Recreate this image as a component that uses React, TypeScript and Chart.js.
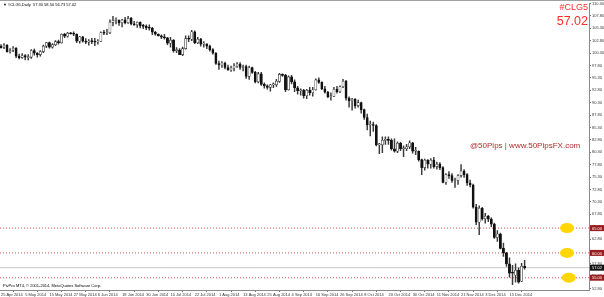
import React, { useEffect, useRef } from 'react';
import { Chart, registerables } from 'chart.js';

Chart.register(...registerables);

// ---- data (daily bars, 23 Apr 2014 .. 22 Dec 2014) ----
const dates: string[] = [
  '2014.04.23','2014.04.24','2014.04.25','2014.04.28','2014.04.29','2014.04.30',
  '2014.05.01','2014.05.02','2014.05.05','2014.05.06','2014.05.07','2014.05.08','2014.05.09','2014.05.12','2014.05.13','2014.05.14','2014.05.15','2014.05.16','2014.05.19','2014.05.20','2014.05.21','2014.05.22','2014.05.23','2014.05.26','2014.05.27','2014.05.28','2014.05.29','2014.05.30',
  '2014.06.02','2014.06.03','2014.06.04','2014.06.05','2014.06.06','2014.06.09','2014.06.10','2014.06.11','2014.06.12','2014.06.13','2014.06.16','2014.06.17','2014.06.18','2014.06.19','2014.06.20','2014.06.23','2014.06.24','2014.06.25','2014.06.26','2014.06.27','2014.06.30',
  '2014.07.01','2014.07.02','2014.07.03','2014.07.04','2014.07.07','2014.07.08','2014.07.09','2014.07.10','2014.07.11','2014.07.14','2014.07.15','2014.07.16','2014.07.17','2014.07.18','2014.07.21','2014.07.22','2014.07.23','2014.07.24','2014.07.25','2014.07.28','2014.07.29','2014.07.30','2014.07.31',
  '2014.08.01','2014.08.04','2014.08.05','2014.08.06','2014.08.07','2014.08.08','2014.08.11','2014.08.12','2014.08.13','2014.08.14','2014.08.15','2014.08.18','2014.08.19','2014.08.20','2014.08.21','2014.08.22','2014.08.25','2014.08.26','2014.08.27','2014.08.28','2014.08.29',
  '2014.09.01','2014.09.02','2014.09.03','2014.09.04','2014.09.05','2014.09.08','2014.09.09','2014.09.10','2014.09.11','2014.09.12','2014.09.15','2014.09.16','2014.09.17','2014.09.18','2014.09.19','2014.09.22','2014.09.23','2014.09.24','2014.09.25','2014.09.26','2014.09.29','2014.09.30',
  '2014.10.01','2014.10.02','2014.10.03','2014.10.06','2014.10.07','2014.10.08','2014.10.09','2014.10.10','2014.10.13','2014.10.14','2014.10.15','2014.10.16','2014.10.17','2014.10.20','2014.10.21','2014.10.22','2014.10.23','2014.10.24','2014.10.27','2014.10.28','2014.10.29','2014.10.30','2014.10.31',
  '2014.11.03','2014.11.04','2014.11.05','2014.11.06','2014.11.07','2014.11.10','2014.11.11','2014.11.12','2014.11.13','2014.11.14','2014.11.17','2014.11.18','2014.11.19','2014.11.20','2014.11.21','2014.11.24','2014.11.25','2014.11.26','2014.11.27','2014.11.28',
  '2014.12.01','2014.12.02','2014.12.03','2014.12.04','2014.12.05','2014.12.08','2014.12.09','2014.12.10','2014.12.11','2014.12.12','2014.12.15','2014.12.16','2014.12.17','2014.12.18','2014.12.19','2014.12.22',
];

const opens: number[] = [
  101.7, 101.5, 101.9, 100.6, 100.9, 101.3,
  99.7, 99.4, 99.8, 99.4, 99.5, 100.8, 100.3, 100.0, 100.6, 101.7, 102.4, 101.5, 102.0, 102.6, 102.4, 104.1, 103.7, 104.3, 104.2, 104.1, 102.7, 103.6,
  102.7, 102.5, 102.7, 102.6, 102.5, 102.7, 104.4, 104.3, 104.4, 106.5, 106.9, 106.9, 106.4, 107.0, 106.4, 107.3, 106.2, 106.0, 106.5, 105.8, 105.7,
  105.4, 105.3, 104.5, 104.1, 103.8, 103.5, 103.4, 102.3, 102.9, 100.8, 100.9, 100.0, 101.2, 103.2, 103.1, 104.6, 102.4, 103.1, 102.1, 102.1, 101.7, 101.0, 100.3,
  98.2, 97.9, 98.3, 97.4, 96.9, 97.3, 97.7, 98.1, 97.4, 97.6, 95.6, 97.4, 96.4, 94.5, 96.1, 94.0, 93.7, 93.4, 93.9, 93.9, 94.6,
  96.0, 95.8, 92.9, 95.5, 94.5, 93.3, 92.7, 92.8, 91.7, 92.8, 92.3, 92.9, 94.9, 94.4, 93.1, 92.4, 91.5, 91.6, 93.0, 92.5, 93.5, 94.6,
  91.2, 90.7, 91.0, 89.7, 90.3, 88.9, 87.3, 85.8, 85.8, 85.7, 81.8, 81.8, 82.7, 82.8, 82.7, 81.0, 80.5, 82.1, 81.0, 81.0, 81.4, 82.2, 80.5,
  80.5, 78.8, 77.2, 78.7, 77.9, 78.7, 77.4, 77.9, 77.2, 74.2, 75.8, 75.6, 74.6, 74.6, 75.6, 76.5, 75.8, 74.1, 73.7, 69.2,
  66.2, 69.0, 66.9, 67.4, 66.8, 65.8, 63.1, 63.8, 60.9, 60.0, 57.8, 56.1, 55.5, 56.5, 54.3, 57.30,
];
const highs: number[] = [
  102.0, 102.2, 102.0, 101.2, 101.6, 101.4,
  100.1, 100.2, 100.0, 100.0, 101.0, 101.1, 100.4, 100.8, 101.9, 102.4, 102.5, 102.2, 102.8, 102.9, 104.2, 104.3, 104.5, 104.5, 104.6, 104.2, 103.7, 103.7,
  103.2, 103.0, 103.3, 103.3, 103.0, 104.6, 104.9, 105.1, 107.0, 107.7, 107.4, 107.0, 107.1, 107.5, 107.7, 107.5, 106.7, 106.6, 106.6, 106.1, 106.0,
  106.0, 105.5, 104.7, 104.2, 104.0, 104.1, 103.5, 103.5, 103.0, 101.4, 101.2, 101.5, 103.8, 103.8, 104.9, 104.8, 103.5, 103.3, 102.6, 102.2, 101.9, 101.2, 100.4,
  98.7, 98.6, 98.5, 97.9, 97.7, 98.2, 98.4, 98.4, 97.9, 97.9, 97.7, 97.5, 96.6, 96.4, 96.4, 94.3, 93.9, 94.0, 94.3, 95.0, 96.2,
  96.1, 96.0, 95.7, 95.8, 94.9, 93.6, 93.1, 93.0, 93.0, 93.4, 93.4, 95.1, 95.3, 94.5, 93.6, 92.6, 92.3, 93.4, 93.6, 93.7, 95.0, 94.8,
  91.5, 91.2, 91.1, 90.8, 90.4, 89.0, 88.0, 86.6, 86.4, 85.9, 82.1, 83.4, 83.4, 83.4, 83.0, 83.0, 82.4, 82.3, 81.6, 81.9, 82.6, 82.3, 81.3,
  80.6, 78.9, 78.9, 78.8, 79.0, 79.3, 78.3, 78.2, 77.4, 76.0, 76.4, 76.0, 75.1, 75.8, 77.8, 76.8, 76.0, 74.7, 73.9, 69.8,
  69.5, 69.2, 68.0, 67.6, 67.1, 66.0, 64.5, 64.0, 62.0, 60.1, 59.0, 57.5, 57.8, 57.0, 57.9, 58.50,
];
const lows: number[] = [
  101.3, 101.2, 100.5, 100.3, 100.6, 99.4,
  99.1, 99.2, 98.9, 98.9, 99.2, 99.9, 99.5, 99.7, 100.4, 101.4, 101.3, 101.3, 101.8, 102.1, 102.3, 103.4, 103.5, 104.1, 103.8, 102.4, 102.3, 102.5,
  102.2, 101.9, 102.2, 101.8, 102.1, 102.6, 104.0, 104.0, 104.2, 105.8, 106.2, 105.9, 105.6, 106.2, 106.3, 106.0, 105.9, 105.5, 105.4, 105.2, 105.0,
  104.9, 104.0, 103.9, 103.7, 103.2, 103.1, 102.0, 101.5, 100.5, 100.4, 100.0, 99.8, 101.1, 102.6, 102.8, 102.2, 102.2, 101.7, 101.5, 101.2, 100.7, 100.1, 98.0,
  97.0, 97.4, 97.1, 96.8, 96.6, 96.7, 97.4, 97.0, 96.7, 95.2, 95.0, 96.2, 94.3, 94.3, 93.8, 93.2, 93.0, 92.6, 93.3, 93.6, 94.4,
  95.6, 92.5, 92.8, 94.1, 92.5, 92.0, 91.8, 91.2, 91.1, 91.8, 91.6, 92.8, 94.2, 92.9, 92.2, 91.3, 90.8, 91.5, 92.2, 92.3, 93.3, 90.8,
  89.4, 88.8, 89.2, 89.4, 88.2, 86.9, 84.8, 83.6, 84.5, 81.6, 80.0, 80.2, 81.9, 81.9, 80.7, 80.3, 80.2, 80.6, 79.4, 80.6, 81.0, 80.1, 79.8,
  78.5, 75.8, 76.7, 77.1, 77.1, 77.1, 76.9, 76.8, 74.1, 73.8, 75.0, 74.2, 73.2, 73.8, 75.3, 75.2, 73.6, 73.3, 69.0, 65.7,
  63.7, 66.6, 66.0, 66.3, 65.3, 62.9, 62.3, 60.8, 59.3, 57.3, 55.1, 53.6, 54.1, 53.9, 54.2, 56.73,
];
const closes: number[] = [
  101.4, 101.9, 100.6, 100.8, 101.3, 99.7,
  99.4, 99.8, 99.5, 99.5, 100.8, 100.3, 100.0, 100.6, 101.7, 102.4, 101.5, 102.0, 102.6, 102.4, 104.1, 103.7, 104.3, 104.2, 104.1, 102.7, 103.6, 102.7,
  102.5, 102.7, 102.6, 102.5, 102.7, 104.4, 104.3, 104.4, 106.5, 106.9, 106.9, 106.4, 107.0, 106.4, 107.3, 106.2, 106.0, 106.5, 105.8, 105.7, 105.4,
  105.3, 104.5, 104.1, 103.8, 103.5, 103.4, 102.3, 102.9, 100.8, 100.9, 100.0, 101.2, 103.2, 103.1, 104.6, 102.4, 103.1, 102.1, 102.1, 101.7, 101.0, 100.3, 98.2,
  97.9, 98.3, 97.4, 96.9, 97.3, 97.7, 98.1, 97.4, 97.6, 95.6, 97.4, 96.4, 94.5, 96.1, 94.0, 93.7, 93.4, 93.9, 93.9, 94.6, 96.0,
  95.8, 92.9, 95.5, 94.5, 93.3, 92.7, 92.8, 91.7, 92.8, 92.3, 92.9, 94.9, 94.4, 93.1, 92.4, 91.5, 91.6, 93.0, 92.5, 93.5, 94.6, 91.2,
  90.7, 91.0, 89.7, 90.3, 88.9, 87.3, 85.8, 85.8, 85.7, 81.8, 81.8, 82.7, 82.8, 82.7, 81.0, 80.5, 82.1, 81.0, 81.0, 81.4, 82.2, 80.5, 80.5,
  78.8, 77.2, 78.7, 77.9, 78.7, 77.4, 77.9, 77.2, 74.2, 75.8, 75.6, 74.6, 74.6, 75.6, 76.5, 75.8, 74.1, 73.7, 69.2, 66.2,
  69.0, 66.9, 67.4, 66.8, 65.8, 63.1, 63.8, 60.9, 60.0, 57.8, 55.9, 55.9, 56.5, 54.1, 57.3, 57.02,
];

const xTickIndex: number[] = [0, 8, 16, 24, 32, 40, 48, 56, 64, 72, 80, 88, 96, 104, 112, 120, 128, 136, 144, 152, 160, 168];
const xTickLabels: string[] = [
  '25 Apr 2014', '5 May 2014', '15 May 2014', '27 May 2014', '6 Jun 2014', '18 Jun 2014', '30 Jun 2014',
  '10 Jul 2014', '22 Jul 2014', '1 Aug 2014', '13 Aug 2014', '25 Aug 2014', '4 Sep 2014', '16 Sep 2014',
  '26 Sep 2014', '8 Oct 2014', '20 Oct 2014', '30 Oct 2014', '11 Nov 2014', '21 Nov 2014', '3 Dec 2014', '15 Dec 2014',
];
const yTickValues: number[] = [
  110.3, 107.8, 105.3, 102.8, 100.3, 97.8, 95.3, 92.8, 90.3, 87.8, 85.3, 82.8,
  80.3, 77.8, 75.3, 72.8, 70.3, 67.8, 65.3, 62.8, 60.3, 57.8, 55.3, 52.8,
];
const redLevels: number[] = [65.0, 60.0, 55.0];
const lastPrice = 57.02;
const markerIndex = [187, 187, 187.6];
const titleText = '\u25BC #CLG5,Daily  57.30 58.50 56.73 57.02';
const symbolText = '#CLG5';
const watermarkText = '@50Pips | www.50PipsFX.com';
const copyrightText = 'PivPro MT4, \u00A9 2001-2014, MetaQuotes Software Corp.';

const X_MIN = -0.33;
const X_MAX = 194.27;
const Y_MIN = 52.52;
const Y_MAX = 110.32;
const FONT = '"Liberation Sans", Arial, sans-serif';

const decorPlugin = {
  id: 'decor',
  afterDraw(chart: any) {
    const ctx: CanvasRenderingContext2D = chart.ctx;
    const { right } = chart.chartArea;
    const xs = chart.scales.x;
    const ys = chart.scales.y;
    ctx.save();
    ctx.strokeStyle = '#a0a0a0';
    ctx.lineWidth = 1;
    ctx.beginPath();
    ctx.moveTo(0, 0.5);
    ctx.lineTo(604, 0.5);
    ctx.stroke();

    redLevels.forEach((lv, k) => {
      const cx = xs.getPixelForValue(markerIndex[k]);
      const cy = ys.getPixelForValue(lv);
      ctx.fillStyle = '#ffd600';
      ctx.beginPath();
      ctx.ellipse(cx, cy, 7, 5, 0, 0, Math.PI * 2);
      ctx.fill();
    });

    ctx.font = `4px ${FONT}`;
    ctx.textBaseline = 'middle';
    ctx.textAlign = 'left';
    redLevels.forEach((lv) => {
      const y = ys.getPixelForValue(lv);
      ctx.fillStyle = '#9a1c1c';
      ctx.fillRect(right + 1, y - 3, 604 - right - 1, 6);
      ctx.fillStyle = '#ffffff';
      ctx.fillText(lv.toFixed(2), right + 3, y + 0.5);
    });
    {
      const y = ys.getPixelForValue(lastPrice);
      ctx.fillStyle = '#141414';
      ctx.fillRect(right + 1, y - 3, 604 - right - 1, 6);
      ctx.fillStyle = '#ffffff';
      ctx.fillText(lastPrice.toFixed(2), right + 3, y + 0.5);
    }

    ctx.fillStyle = '#000000';
    ctx.font = `4px ${FONT}`;
    ctx.fillText(titleText, 3, 5);
    ctx.fillText(copyrightText, 3, 286);

    ctx.fillStyle = '#ff2b2b';
    ctx.textAlign = 'right';
    ctx.textBaseline = 'alphabetic';
    ctx.font = `9px ${FONT}`;
    ctx.fillText(symbolText, 588, 10);
    ctx.font = `12.5px ${FONT}`;
    ctx.fillText(lastPrice.toFixed(2), 588, 25);

    ctx.fillStyle = '#b02c2c';
    ctx.textAlign = 'left';
    ctx.textBaseline = 'middle';
    ctx.font = `8px ${FONT}`;
    ctx.fillText(watermarkText, 470, 146);
    ctx.restore();
  },
};

export default function App() {
  const ref = useRef<HTMLCanvasElement | null>(null);
  useEffect(() => {
    if (!ref.current) return;
    const up = opens.map((o, i) => closes[i] >= o);
    const bodies = opens.map((o, i) => ({ x: i, y: [Math.min(o, closes[i]), Math.max(o, closes[i])] }));
    const wicks = highs.map((h, i) => ({ x: i, y: [lows[i], h] }));
    const levelSets = redLevels.map((lv) => ({
      type: 'line' as const,
      data: [{ x: X_MIN, y: lv }, { x: X_MAX, y: lv }],
      borderColor: '#c85a5a',
      borderWidth: 1,
      borderDash: [1, 2],
      pointRadius: 0,
      order: 10,
    }));
    const chart = new Chart(ref.current, {
      type: 'bar',
      data: {
        labels: dates,
        datasets: [
          {
            type: 'bar',
            data: bodies as any,
            backgroundColor: up.map((u) => (u ? '#ffffff' : '#111111')),
            borderColor: up.map((u) => (u ? '#333333' : '#111111')),
            borderWidth: 0.6,
            borderSkipped: false,
            barThickness: 2.2,
            minBarLength: 1,
            grouped: false,
            order: 1,
          },
          {
            type: 'bar',
            data: wicks as any,
            backgroundColor: '#3a3a3a',
            borderWidth: 0,
            barThickness: 0.8,
            grouped: false,
            order: 2,
          },
          ...levelSets,
          {
            type: 'line',
            data: [{ x: X_MIN, y: lastPrice }, { x: X_MAX, y: lastPrice }],
            borderColor: '#c8c8c8',
            borderWidth: 1,
            pointRadius: 0,
            order: 11,
          },
        ] as any,
      },
      options: {
        animation: false,
        responsive: false,
        devicePixelRatio: 1,
        layout: { padding: { top: 1, left: 0, right: 0, bottom: 0 } },
        plugins: { legend: { display: false }, tooltip: { enabled: false } },
        scales: {
          x: {
            type: 'linear',
            min: X_MIN,
            max: X_MAX,
            offset: false,
            grid: { drawOnChartArea: false, drawTicks: true, tickLength: 2, color: '#707070' },
            border: { display: true, color: '#8a8a8a' },
            ticks: {
              autoSkip: false,
              maxRotation: 0,
              minRotation: 0,
              align: 'start',
              padding: 0,
              color: '#333333',
              font: { size: 4, family: FONT },
              callback: (v: any) => {
                const k = xTickIndex.indexOf(Number(v));
                return k >= 0 ? xTickLabels[k] : '';
              },
            },
            afterBuildTicks: (s: any) => {
              s.ticks = xTickIndex.map((v) => ({ value: v }));
            },
            afterFit: (s: any) => {
              s.height = 7;
            },
          },
          y: {
            position: 'right',
            min: Y_MIN,
            max: Y_MAX,
            grid: { drawOnChartArea: false, drawTicks: true, tickLength: 2, color: '#707070' },
            border: { display: true, color: '#8a8a8a' },
            ticks: {
              padding: 1,
              color: '#333333',
              font: { size: 4, family: FONT },
              callback: (v: any) => Number(v).toFixed(2),
            },
            afterBuildTicks: (s: any) => {
              s.ticks = yTickValues.map((v) => ({ value: v }));
            },
            afterFit: (s: any) => {
              s.width = 15;
            },
          },
        },
      },
      plugins: [decorPlugin],
    });
    return () => chart.destroy();
  }, []);
  return (
    <div style={{ position: 'fixed', left: 0, top: 0, width: 604, height: 297, background: '#ffffff' }}>
      <canvas ref={ref} width={604} height={297} style={{ display: 'block', width: 604, height: 297 }} />
    </div>
  );
}
